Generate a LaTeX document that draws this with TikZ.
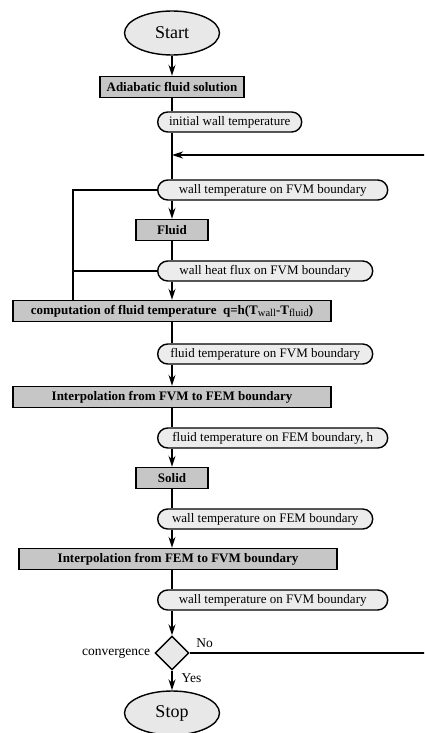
\documentclass[tikz,border=0pt]{standalone}
\usepackage{fontspec}
\setmainfont{Liberation Serif}
\usetikzlibrary{shapes.geometric, shapes.misc, arrows.meta, positioning}

\newcommand{\sublabel}[1]{\raisebox{-2.5pt}{\fontsize{10.5}{12}\selectfont\mdseries #1}}

\begin{document}
\begin{tikzpicture}[x=1pt, y=-1pt,
    terminal/.style={ellipse, draw, line width=1.4pt, fill=gray!18, minimum width=95pt, minimum height=44pt, inner sep=0pt, font=\fontsize{18}{20}\selectfont},
    process/.style={rectangle, draw, line width=1.4pt, fill=gray!45, minimum height=21pt, inner sep=0pt, font=\fontsize{13}{15}\selectfont\bfseries},
    data/.style={rounded rectangle, draw, line width=1.4pt, fill=gray!15, minimum height=20pt, inner sep=0pt, anchor=west, font=\fontsize{13}{15}\selectfont},
    decision/.style={diamond, draw, line width=1.4pt, fill=gray!18, minimum width=34pt, minimum height=34pt, inner sep=0pt},
    label/.style={font=\fontsize{13.5}{15}\selectfont, inner sep=0pt},
    arrow/.style={-{Stealth[length=11pt, width=7pt, inset=3.5pt]}, line width=1.4pt},
    line/.style={line width=1.4pt}
]
\useasboundingbox (0,0) rectangle (424,733);
\clip (0,0) rectangle (424,733);

% nodes of the main chain
\node[terminal] (start) at (172,33) {Start};
\node[process, minimum width=144pt] (adiab) at (172,87) {Adiabatic fluid solution};
\node[data, minimum width=144pt] (init) at (157,122) {initial wall temperature};
\coordinate (merge) at (172,155);
\node[data, minimum width=230pt] (wallfvm) at (157,190) {wall temperature on FVM boundary};
\node[process, minimum width=72pt] (fluid) at (172,230) {Fluid};
\node[data, minimum width=215pt] (flux) at (157,271) {wall heat flux on FVM boundary};
\node[process, minimum width=318pt] (comp) at (172,311) {computation of fluid temperature\ \ q=h(T\sublabel{wall}-T\sublabel{fluid})};
\node[data, minimum width=215pt] (fluidfvm) at (157,354) {fluid temperature on FVM boundary};
\node[process, minimum width=318pt] (interpA) at (172,397) {Interpolation from FVM to FEM boundary};
\node[data, minimum width=230pt] (fluidfem) at (157,438) {fluid temperature on FEM boundary, h};
\node[process, minimum width=72pt] (solid) at (172,478) {Solid};
\node[data, minimum width=215pt] (wallfem) at (157,519) {wall temperature on FEM boundary};
\node[process, minimum width=318pt] (interpB) at (178,559) {Interpolation from FEM to FVM boundary};
\node[data, minimum width=230pt] (wallfvmB) at (157,600) {wall temperature on FVM boundary};
\node[decision] (conv) at (172,653) {};
\node[label, left=4pt of conv] (convlabel) {convergence};
\node[terminal] (stop) at (172,713) {Stop};

% loop coordinates
\coordinate (loopleft) at (73,311);
\coordinate (loopright) at (432,653);

% main chain
\draw[arrow] (start) -- (adiab);
\draw[line] (adiab) -- (adiab |- init.north);
\draw[line] (init.south -| adiab) -- (wallfvm.north -| adiab);
\draw[arrow] (wallfvm.south -| fluid) -- (fluid);
\draw[line] (fluid) -- (fluid |- flux.north);
\draw[arrow] (flux.south -| fluid) -- (comp);
\draw[line] (comp) -- (comp |- fluidfvm.north);
\draw[arrow] (fluidfvm.south -| comp) -- (interpA);
\draw[line] (interpA) -- (interpA |- fluidfem.north);
\draw[arrow] (fluidfem.south -| solid) -- (solid);
\draw[line] (solid) -- (solid |- wallfem.north);
\draw[arrow] (wallfem.south -| solid) -- (interpB.north -| solid);
\draw[line] (interpB.south -| solid) -- (wallfvmB.north -| solid);
\draw[arrow] (wallfvmB.south -| conv) -- (conv);
\draw[arrow] (conv) -- node[label, right=9pt, pos=0.4] {Yes} (stop);

% feedback loops
\draw[arrow] (conv.east) -- node[label, pos=0, anchor=south west, xshift=6pt, yshift=5pt] {No} (loopright) |- (merge);
\draw[line] (wallfvm.west) -| (comp.north -| loopleft);
\draw[line] (flux.west) -- (flux.west -| loopleft);
\end{tikzpicture}
\end{document}
